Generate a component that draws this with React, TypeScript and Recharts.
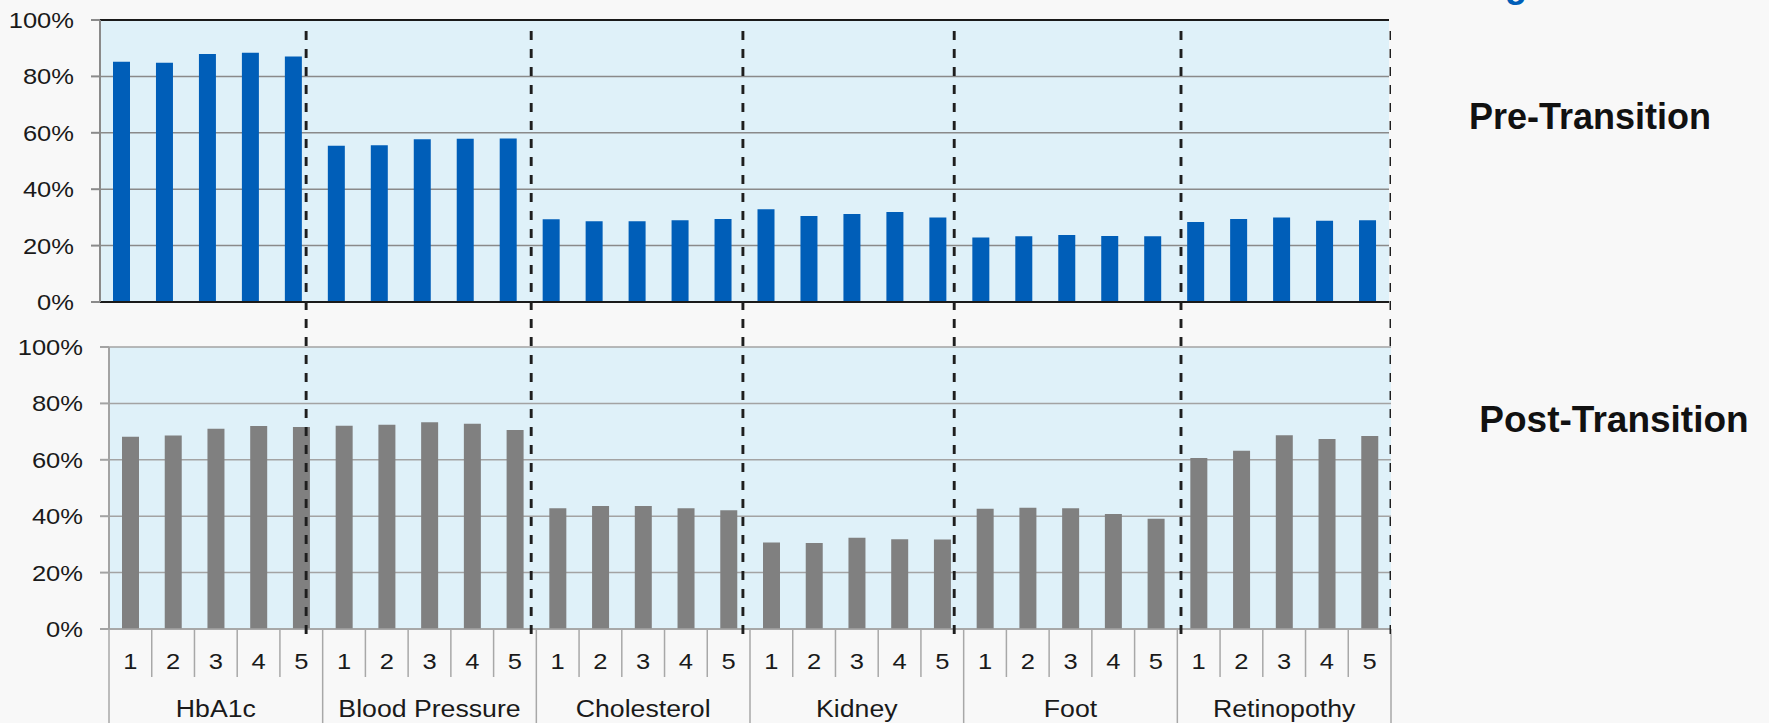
import React from 'react';
import { BarChart, Bar, XAxis, YAxis, CartesianGrid, ComposedChart, Line, ReferenceLine } from 'recharts';

const groups = ['HbA1c', 'Blood Pressure', 'Cholesterol', 'Kidney', 'Foot', 'Retinopothy'];
const periods = ['1', '2', '3', '4', '5'];
const preTransition = [
  85.2, 84.8, 87.9, 88.4, 87.1,
  55.4, 55.6, 57.7, 57.9, 58.0,
  29.3, 28.6, 28.6, 29.0, 29.4,
  32.9, 30.5, 31.2, 31.9, 30.0,
  22.9, 23.3, 23.8, 23.4, 23.3,
  28.4, 29.4, 30.0, 28.8, 29.0,
];
const postTransition = [
  68.2, 68.6, 71.0, 72.0, 71.6,
  72.1, 72.4, 73.3, 72.8, 70.6,
  42.8, 43.6, 43.6, 42.8, 42.1,
  30.7, 30.5, 32.4, 31.8, 31.7,
  42.6, 43.0, 42.8, 40.8, 39.1,
  60.6, 63.2, 68.7, 67.4, 68.4,
];
const yTicks = [0, 20, 40, 60, 80, 100];
const dividerPositions = [4.79, 10.02, 14.94, 19.85, 25.12, 30];
const titles = ['Pre-Transition', 'Post-Transition'];

const rows = groups.flatMap((g, gi) =>
  periods.map((p, pi) => ({
    id: `${g}-${p}`,
    group: g,
    period: p,
    pre: preTransition[gi * 5 + pi],
    post: postTransition[gi * 5 + pi],
  }))
);

const FONT = '"Liberation Sans", Arial, Helvetica, sans-serif';
const PLOT_BG = '#dff1f9';
const PAGE_BG = '#f8f8f8';
const TEXT = '#1a1a1a';
const SEP = '#a8a8a8';
const STRETCH = 1.16;

const BOTTOM_CHART_W = 1400;
const BOTTOM_LEFT = 109;
const BOTTOM_RIGHT_MARGIN = 9;
const SLOT = (BOTTOM_CHART_W - BOTTOM_LEFT - BOTTOM_RIGHT_MARGIN) / rows.length;
const X_AXIS_H = 94;

const YTick = (props: any) => {
  const { x, y, payload } = props;
  return (
    <g transform={`translate(${x},${y}) scale(${STRETCH},1)`}>
      <text x={0} y={0} dy="0.36em" textAnchor="end" fontSize={22} fontFamily={FONT} fill={TEXT}>
        {payload.value}%
      </text>
    </g>
  );
};

const XTick = (props: any) => {
  const { x, y, index } = props;
  const row = rows[index];
  if (!row) return null;
  const left = x - SLOT / 2;
  const groupStart = index % 5 === 0;
  return (
    <g>
      <line x1={left} x2={left} y1={y} y2={y + (groupStart ? X_AXIS_H : 48)} stroke={SEP} strokeWidth={1.5} />
      {index === rows.length - 1 && (
        <line x1={x + SLOT / 2} x2={x + SLOT / 2} y1={y} y2={y + X_AXIS_H} stroke={SEP} strokeWidth={1.5} />
      )}
      <g transform={`translate(${x},${y + 40}) scale(${STRETCH},1)`}>
        <text x={0} y={0} textAnchor="middle" fontSize={22} fontFamily={FONT} fill={TEXT}>
          {row.period}
        </text>
      </g>
      {index % 5 === 2 && (
        <g transform={`translate(${x},${y + 88}) scale(${STRETCH},1)`}>
          <text x={0} y={0} textAnchor="middle" fontSize={23} fontFamily={FONT} fill={TEXT}>
            {row.group}
          </text>
        </g>
      )}
    </g>
  );
};

// one vertical segment per divider: (x, 0) -> (x, 1)
const dividerSeries = dividerPositions.map((x) => [
  { x, y: 0 },
  { x, y: 1 },
]);

export default function App() {
  return (
    <div
      style={{
        position: 'absolute',
        left: 0,
        top: 0,
        width: 1769,
        height: 723,
        background: PAGE_BG,
        overflow: 'hidden',
        fontFamily: FONT,
      }}
    >
      {/* Top chart: Pre-Transition */}
      <div style={{ position: 'absolute', left: 0, top: 0 }}>
        <BarChart
          width={1400}
          height={320}
          data={rows}
          margin={{ top: 20, right: 11, bottom: 18, left: 0 }}
          barSize={17}
        >
          <CartesianGrid xAxisId="b" yAxisId="l" vertical={false} fill={PLOT_BG} stroke="#8a8a8a" strokeWidth={1.5} />
          <XAxis
            xAxisId="b"
            dataKey="id"
            height={0}
            tick={false}
            tickLine={false}
            axisLine={{ stroke: '#1a1a1a', strokeWidth: 2 }}
          />
          <XAxis
            xAxisId="t"
            dataKey="id"
            orientation="top"
            height={0}
            tick={false}
            tickLine={false}
            axisLine={{ stroke: '#1a1a1a', strokeWidth: 2 }}
          />
          <YAxis
            yAxisId="l"
            domain={[0, 100]}
            ticks={yTicks}
            interval={0}
            width={100}
            tickSize={9}
            tickMargin={17}
            tick={<YTick />}
            tickLine={{ stroke: '#8a8a8a', strokeWidth: 2 }}
            axisLine={{ stroke: '#8a8a8a', strokeWidth: 2 }}
          />
          <YAxis
            yAxisId="r"
            orientation="right"
            domain={[0, 100]}
            width={0}
            tick={false}
            tickLine={false}
            axisLine={{ stroke: '#1a1a1a', strokeWidth: 2 }}
          />
          <Bar xAxisId="b" yAxisId="l" dataKey="pre" fill="#005eb8" isAnimationActive={false} />
          <ReferenceLine xAxisId="b" yAxisId="l" y={100} stroke="#1a1a1a" strokeWidth={2} ifOverflow="visible" />
          <ReferenceLine xAxisId="b" yAxisId="l" y={0} stroke="#1a1a1a" strokeWidth={2} ifOverflow="visible" />
        </BarChart>
      </div>

      {/* Bottom chart: Post-Transition */}
      <div style={{ position: 'absolute', left: 0, top: 330 }}>
        <BarChart
          width={BOTTOM_CHART_W}
          height={393}
          data={rows}
          margin={{ top: 17, right: BOTTOM_RIGHT_MARGIN, bottom: 0, left: 0 }}
          barSize={17}
        >
          <CartesianGrid vertical={false} fill={PLOT_BG} stroke="#a3a3a3" strokeWidth={1.5} />
          <XAxis
            dataKey="id"
            height={X_AXIS_H}
            interval={0}
            tickSize={0}
            tickMargin={0}
            tickLine={false}
            tick={<XTick />}
            axisLine={{ stroke: '#a3a3a3', strokeWidth: 1.5 }}
          />
          <YAxis
            domain={[0, 100]}
            ticks={yTicks}
            interval={0}
            width={BOTTOM_LEFT}
            tickSize={9}
            tickMargin={17}
            tick={<YTick />}
            tickLine={{ stroke: '#a3a3a3', strokeWidth: 2 }}
            axisLine={{ stroke: '#a3a3a3', strokeWidth: 2 }}
          />
          <Bar dataKey="post" fill="#808080" isAnimationActive={false} />
        </BarChart>
      </div>

      {/* Dashed group dividers overlay */}
      <div style={{ position: 'absolute', left: 0, top: 0, pointerEvents: 'none' }}>
        <ComposedChart width={1400} height={640} margin={{ top: 29, right: 9, bottom: 6, left: 100 }}>
          <XAxis type="number" dataKey="x" domain={[0, 30]} allowDataOverflow hide />
          <YAxis type="number" dataKey="y" domain={[0, 1]} allowDataOverflow hide />
          {dividerSeries.map((seg, i) => (
            <Line
              key={i}
              data={seg}
              dataKey="y"
              type="linear"
              stroke="#1e1e1e"
              strokeWidth={2.9}
              strokeDasharray="9 9"
              dot={false}
              activeDot={false}
              isAnimationActive={false}
            />
          ))}
        </ComposedChart>
      </div>

      {/* Titles */}
      <svg width={1769} height={723} style={{ position: 'absolute', left: 0, top: 0, pointerEvents: 'none' }}>
        <text x={1516} y={-3.5} textAnchor="middle" fontSize={36} fontWeight="bold" fontFamily={FONT} fill="#005eb8">
          g
        </text>
        <text x={1590} y={129} textAnchor="middle" fontSize={36} fontWeight="bold" fontFamily={FONT} fill="#111111">
          {titles[0]}
        </text>
        <text x={1614} y={432} textAnchor="middle" fontSize={37} fontWeight="bold" fontFamily={FONT} fill="#111111">
          {titles[1]}
        </text>
      </svg>
    </div>
  );
}
